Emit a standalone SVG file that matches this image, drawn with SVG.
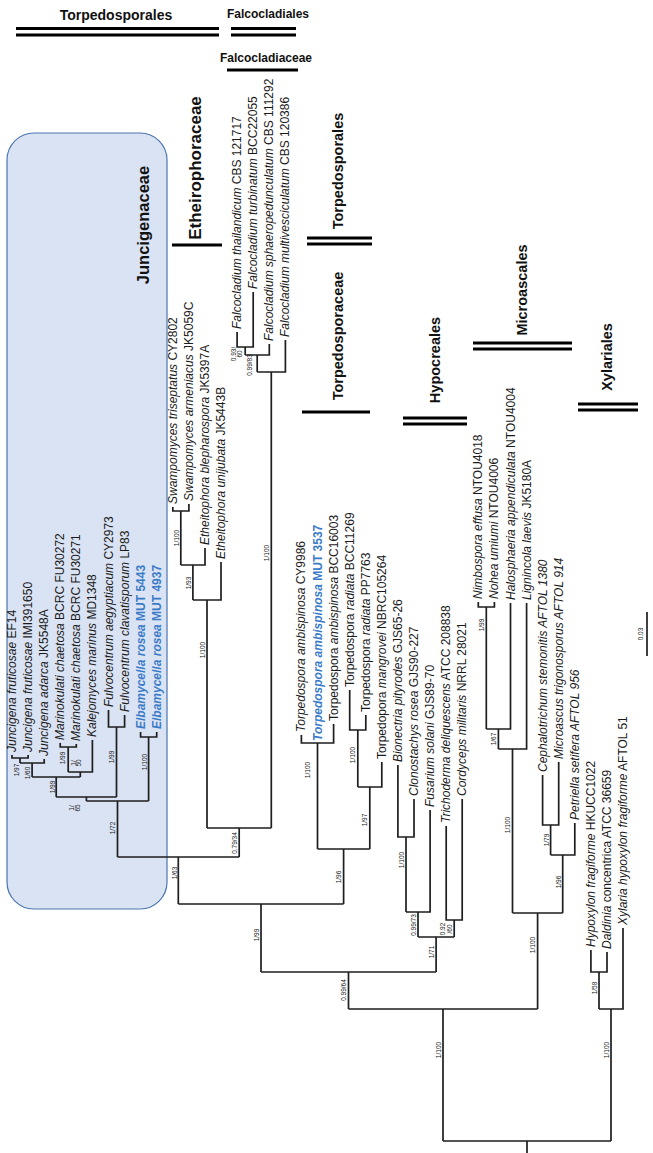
<svg xmlns="http://www.w3.org/2000/svg" width="653" height="1153" viewBox="0 0 653 1153">
<style>
.l{stroke:#1e1e1e;stroke-width:1.7;fill:none}
.tx{font-family:"Liberation Sans",Arial,sans-serif;font-size:12px;fill:#1a1a1a}
.i{font-style:italic}
.bl{fill:#3a7bc8;font-weight:bold}
.sp{font-family:"Liberation Sans",Arial,sans-serif;font-size:6.5px;fill:#222;text-anchor:middle}
.cl{font-family:"Liberation Sans",Arial,sans-serif;font-weight:bold;fill:#111;text-anchor:middle}
.bar{stroke:#000;stroke-width:3.2}
</style>
<rect x="7" y="133" width="160" height="776" rx="27" fill="#dae3f3" stroke="#4a76b0" stroke-width="1.2"/>

<g id="header">
<text class="cl" x="116" y="20" font-size="14">Torpedosporales</text>
<line class="bar" x1="16" y1="28.5" x2="219" y2="28.5"/>
<line class="bar" x1="16" y1="35" x2="219" y2="35"/>
<text class="cl" x="268" y="18" font-size="12">Falcocladiales</text>
<line class="bar" x1="231" y1="28.5" x2="296" y2="28.5"/>
<line class="bar" x1="231" y1="35" x2="296" y2="35"/>
<text class="cl" x="266" y="62" font-size="12">Falcocladiaceae</text>
<line class="bar" x1="227" y1="70" x2="298" y2="70" stroke-width="3.6"/>
</g>

<g id="clades">
<text class="cl" font-size="16.5" transform="translate(149,225) rotate(-90)">Juncigenaceae</text>
<text class="cl" font-size="17" font-weight="normal" transform="translate(201,168) rotate(-90)">Etheirophoraceae</text>
<line class="bar" x1="172" y1="245" x2="222" y2="245" stroke-width="4"/>
<text class="cl" font-size="14.5" transform="translate(343,171) rotate(-90)">Torpedosporales</text>
<line class="bar" x1="307" y1="238" x2="372" y2="238"/>
<line class="bar" x1="307" y1="244" x2="372" y2="244"/>
<text class="cl" font-size="14.5" transform="translate(343,336) rotate(-90)">Torpedosporaceae</text>
<line class="bar" x1="302" y1="412" x2="370" y2="412" stroke-width="4"/>
<text class="cl" font-size="14.5" transform="translate(440,360) rotate(-90)">Hypocreales</text>
<line class="bar" x1="403" y1="418" x2="467" y2="418"/>
<line class="bar" x1="403" y1="424" x2="467" y2="424"/>
<text class="cl" font-size="14.5" transform="translate(527,290) rotate(-90)">Microascales</text>
<line class="bar" x1="473" y1="343" x2="572" y2="343"/>
<line class="bar" x1="473" y1="349" x2="572" y2="349"/>
<text class="cl" font-size="14.5" transform="translate(612,357) rotate(-90)">Xylariales</text>
<line class="bar" x1="578" y1="404" x2="638" y2="404"/>
<line class="bar" x1="578" y1="410" x2="638" y2="410"/>
</g>

<g id="connectors">
<path class="l" d="M12 755V758H28.1V755M20 758V763M20 763H44.2V759M32.1 763V777"/>
<path class="l" d="M60.2 743V747H76.3V744M68.2 747V772M68.2 772H92.4V740M80.3 772V777M32.1 777H80.3M56.2 777V797"/>
<path class="l" d="M108.5 710V727H124.6V715M116.5 727V797M56.2 797H116.5M86.4 797V801"/>
<path class="l" d="M140.6 732V737H156.7V732M148.6 737V801M86.4 801H148.6M117.5 801V857"/>
<path class="l" d="M172.8 507V511H188.9V504M180.8 511V565M180.8 565H205V548M192.9 565V600M192.9 600H221V562M207 600V828"/>
<path class="l" d="M237.1 332V347H253.2V292M245.2 347V355M245.2 355H269.3V344M257.2 355V372M257.2 372H285.4V340M271.3 372V828"/>
<path class="l" d="M207 828H271.3M239.2 828V857M117.5 857H239.2M178.3 857V904"/>
<path class="l" d="M301.4 735V743H333.6V724M317.5 743V849"/>
<path class="l" d="M349.7 690V730H365.8V715M357.8 730V787M357.8 787H381.8V762M369.8 787V849M317.5 849H369.8M343.6 849V904"/>
<path class="l" d="M178.3 904H343.6M261 904V972"/>
<path class="l" d="M397.9 765V837H414V799M406 837V912M406 912H430.1V810M418 912V937"/>
<path class="l" d="M446.2 826V920H462.2V799M454.2 920V937M418 937H454.2M436.1 937V972"/>
<path class="l" d="M261 972H436.1M348.5 972V1009"/>
<path class="l" d="M478.3 602V607H494.4V602M486.3 607V729M486.3 729H510.5V603M498.4 729V749M498.4 749H526.6V603M512.5 749V913"/>
<path class="l" d="M542.6 775V825H558.7V762M550.6 825V855M550.6 855H574.8V823M562.7 855V913M512.5 913H562.7M537.6 913V1009"/>
<path class="l" d="M348.5 1009H537.6M443 1009V1141"/>
<path class="l" d="M590.9 950V972H607V952M599 972V1009M599 1009H623V928M611 1009V1141"/>
<path class="l" d="M443 1141H611M527 1141V1153"/>
</g>

<g id="support">
<text class="sp" transform="translate(19,770) rotate(-90)">1/97</text>
<text class="sp" transform="translate(30,773) rotate(-90)">1/60</text>
<text class="sp" transform="translate(54.5,787) rotate(-90)">1/99</text>
<text class="sp" transform="translate(65,758) rotate(-90)">1/99</text>
<text class="sp" transform="translate(75.5,763) rotate(-90)">1/</text>
<text class="sp" transform="translate(81,763) rotate(-90)">50</text>
<text class="sp" transform="translate(74,808) rotate(-90)">1/</text>
<text class="sp" transform="translate(80,808) rotate(-90)">65</text>
<text class="sp" transform="translate(114,757) rotate(-90)">1/99</text>
<text class="sp" transform="translate(147,762) rotate(-90)">1/100</text>
<text class="sp" transform="translate(115,828) rotate(-90)">1/72</text>
<text class="sp" transform="translate(176.5,873) rotate(-90)">1/63</text>
<text class="sp" transform="translate(237,843) rotate(-90)">0.79/34</text>
<text class="sp" transform="translate(179,538) rotate(-90)">1/100</text>
<text class="sp" transform="translate(190.5,583) rotate(-90)">1/93</text>
<text class="sp" transform="translate(205,650) rotate(-90)">1/100</text>
<text class="sp" transform="translate(235.5,354) rotate(-90)">0.93/</text>
<text class="sp" transform="translate(241.5,354) rotate(-90)">60</text>
<text class="sp" transform="translate(252,365) rotate(-90)">0.99/83</text>
<text class="sp" transform="translate(269,553) rotate(-90)">1/100</text>
<text class="sp" transform="translate(310,770) rotate(-90)">1/100</text>
<text class="sp" transform="translate(355,755) rotate(-90)">1/100</text>
<text class="sp" transform="translate(367,820) rotate(-90)">1/97</text>
<text class="sp" transform="translate(341,877) rotate(-90)">1/96</text>
<text class="sp" transform="translate(258.5,935) rotate(-90)">1/99</text>
<text class="sp" transform="translate(403.5,860) rotate(-90)">1/100</text>
<text class="sp" transform="translate(415.5,925) rotate(-90)">0.99/73</text>
<text class="sp" transform="translate(445,929) rotate(-90)">0.92</text>
<text class="sp" transform="translate(452,929) rotate(-90)">/60</text>
<text class="sp" transform="translate(434,952) rotate(-90)">1/71</text>
<text class="sp" transform="translate(346,990) rotate(-90)">0.99/64</text>
<text class="sp" transform="translate(441,1050) rotate(-90)">1/100</text>
<text class="sp" transform="translate(484,625) rotate(-90)">1/99</text>
<text class="sp" transform="translate(496,739) rotate(-90)">1/67</text>
<text class="sp" transform="translate(510,825) rotate(-90)">1/100</text>
<text class="sp" transform="translate(548.5,840) rotate(-90)">1/79</text>
<text class="sp" transform="translate(560.5,882) rotate(-90)">1/96</text>
<text class="sp" transform="translate(535,945) rotate(-90)">1/100</text>
<text class="sp" transform="translate(596.5,988) rotate(-90)">1/58</text>
<text class="sp" transform="translate(608.5,1050) rotate(-90)">1/100</text>
</g>

<g id="scale">
<line class="l" x1="647" y1="612" x2="647" y2="656" stroke-width="1.2"/>
<text class="sp" transform="translate(643,634) rotate(-90)">0.03</text>
</g>

<g id="t00"><text class="tx" transform="translate(16,752) rotate(-90)"><tspan class="i">Juncigena fruticosae</tspan> EF14</text></g>
<g id="t01"><text class="tx" transform="translate(32.1,752) rotate(-90)"><tspan class="i">Juncigena fruticosae</tspan> IMI391650</text></g>
<g id="t02"><text class="tx" transform="translate(48.2,756) rotate(-90)"><tspan class="i">Juncigena adarca</tspan> JK5548A</text></g>
<g id="t03"><text class="tx" transform="translate(64.2,740) rotate(-90)"><tspan class="i">Marinokulati chaetosa</tspan> BCRC FU30272</text></g>
<g id="t04"><text class="tx" transform="translate(80.3,741) rotate(-90)"><tspan class="i">Marinokulati chaetosa</tspan> BCRC FU30271</text></g>
<g id="t05"><text class="tx" transform="translate(96.4,737) rotate(-90)"><tspan class="i">Kalejomyces marinus</tspan> MD1348</text></g>
<g id="t06"><text class="tx" transform="translate(112.5,707) rotate(-90)"><tspan class="i">Fulvocentrum aegyptiacum</tspan> CY2973</text></g>
<g id="t07"><text class="tx" transform="translate(128.6,712) rotate(-90)"><tspan class="i">Fulvocentrum clavatisporum</tspan> LP83</text></g>
<g id="t08"><text class="tx bl" transform="translate(144.6,729) rotate(-90)"><tspan class="i">Elbamycella rosea</tspan> MUT 5443</text></g>
<g id="t09"><text class="tx bl" transform="translate(160.7,729) rotate(-90)"><tspan class="i">Elbamycella rosea</tspan> MUT 4937</text></g>
<g id="t10"><text class="tx" transform="translate(176.8,504) rotate(-90)"><tspan class="i">Swampomyces triseptatus</tspan> CY2802</text></g>
<g id="t11"><text class="tx" transform="translate(192.9,501) rotate(-90)"><tspan class="i">Swampomyces armeniacus</tspan> JK5059C</text></g>
<g id="t12"><text class="tx" transform="translate(209,545) rotate(-90)"><tspan class="i">Etheitophora blepharospora</tspan> JK5397A</text></g>
<g id="t13"><text class="tx" transform="translate(225,559) rotate(-90)"><tspan class="i">Etheitophora unijubata</tspan> JK5443B</text></g>
<g id="t14"><text class="tx" transform="translate(241.1,329) rotate(-90)"><tspan class="i">Falcocladium thailandicum</tspan> CBS 121717</text></g>
<g id="t15"><text class="tx" transform="translate(257.2,289) rotate(-90)"><tspan class="i">Falcocladium turbinatum</tspan> BCC22055</text></g>
<g id="t16"><text class="tx" transform="translate(273.3,341) rotate(-90)"><tspan class="i">Falcocladium sphaeropedunculatum</tspan> CBS 111292</text></g>
<g id="t17"><text class="tx" transform="translate(289.4,337) rotate(-90)"><tspan class="i">Falcocladium multivesciculatum</tspan> CBS 120386</text></g>
<g id="t18"><text class="tx" transform="translate(305.4,732) rotate(-90)"><tspan class="i">Torpedospora ambispinosa</tspan> CY9986</text></g>
<g id="t19"><text class="tx bl" transform="translate(321.5,741) rotate(-90)"><tspan class="i">Torpedospora ambispinosa</tspan> MUT 3537</text></g>
<g id="t20"><text class="tx" transform="translate(337.6,721) rotate(-90)">Torpedospora <tspan class="i">ambispinosa</tspan> BCC16003</text></g>
<g id="t21"><text class="tx" transform="translate(353.7,687) rotate(-90)">Torpedospora <tspan class="i">radiata</tspan> BCC11269</text></g>
<g id="t22"><text class="tx" transform="translate(369.8,712) rotate(-90)">Torpedospora <tspan class="i">radiata</tspan> PP7763</text></g>
<g id="t23"><text class="tx" transform="translate(385.8,759) rotate(-90)">Torpedopora <tspan class="i">mangrovei</tspan> NBRC105264</text></g>
<g id="t24"><text class="tx" transform="translate(401.9,762) rotate(-90)"><tspan class="i">Bionectria pityrodes</tspan> GJS65-26</text></g>
<g id="t25"><text class="tx" transform="translate(418,796) rotate(-90)"><tspan class="i">Clonostachys rosea</tspan> GJS90-227</text></g>
<g id="t26"><text class="tx" transform="translate(434.1,807) rotate(-90)"><tspan class="i">Fusarium solani</tspan> GJS89-70</text></g>
<g id="t27"><text class="tx" transform="translate(450.2,823) rotate(-90)"><tspan class="i">Trichoderma deliquescens</tspan> ATCC 208838</text></g>
<g id="t28"><text class="tx" transform="translate(466.2,796) rotate(-90)"><tspan class="i">Cordyceps militaris</tspan> NRRL 28021</text></g>
<g id="t29"><text class="tx" transform="translate(482.3,599) rotate(-90)"><tspan class="i">Nimbospora effusa</tspan> NTOU4018</text></g>
<g id="t30"><text class="tx" transform="translate(498.4,599) rotate(-90)"><tspan class="i">Nohea umiumi</tspan> NTOU4006</text></g>
<g id="t31"><text class="tx" transform="translate(514.5,600) rotate(-90)"><tspan class="i">Halosphaeria appendiculata</tspan> NTOU4004</text></g>
<g id="t32"><text class="tx" transform="translate(530.6,600) rotate(-90)"><tspan class="i">Lignincola laevis</tspan> JK5180A</text></g>
<g id="t33"><text class="tx i" transform="translate(546.6,772) rotate(-90)">Cephalotrichum stemonitis AFTOL 1380</text></g>
<g id="t34"><text class="tx i" transform="translate(562.7,759) rotate(-90)">Microascus trigonosporus AFTOL 914</text></g>
<g id="t35"><text class="tx i" transform="translate(578.8,820) rotate(-90)">Petriella setifera AFTOL 956</text></g>
<g id="t36"><text class="tx" transform="translate(594.9,947) rotate(-90)"><tspan class="i">Hypoxylon fragiforme</tspan> HKUCC1022</text></g>
<g id="t37"><text class="tx" transform="translate(611,949) rotate(-90)"><tspan class="i">Daldinia</tspan> concentrica ATCC 36659</text></g>
<g id="t38"><text class="tx" transform="translate(627,925) rotate(-90)"><tspan class="i">Xylaria hypoxylon fragiforme</tspan> AFTOL 51</text></g>
</svg>
